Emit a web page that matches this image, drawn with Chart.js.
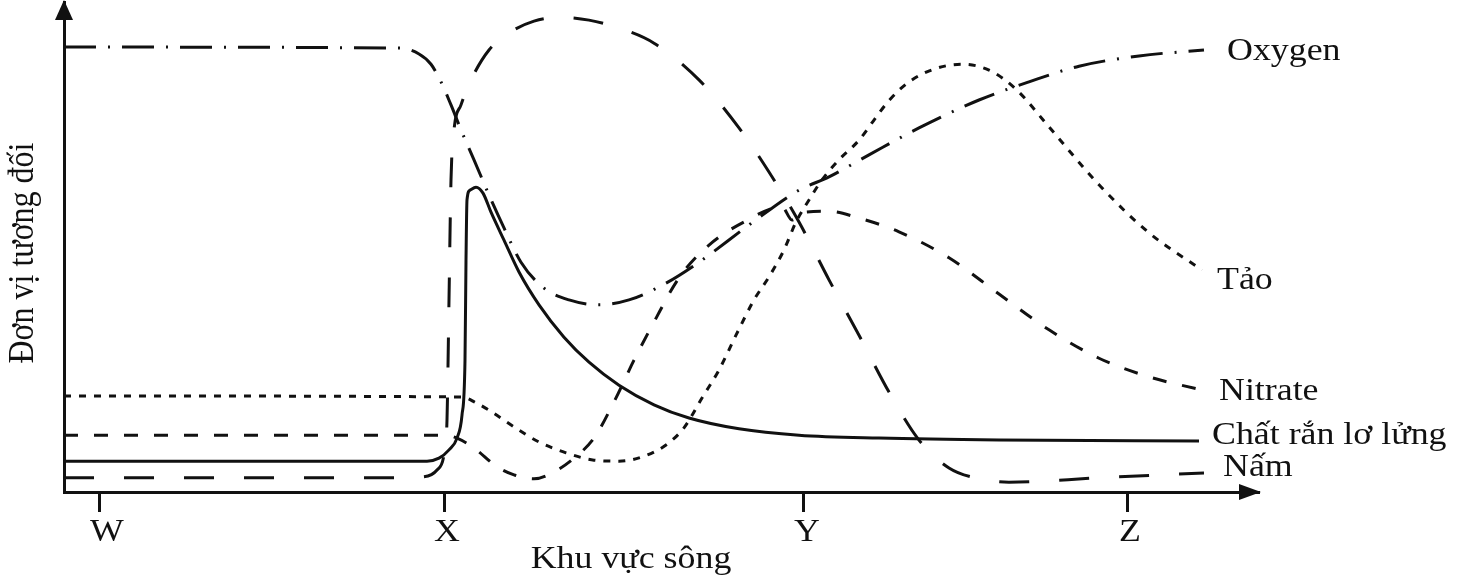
<!DOCTYPE html>
<html>
<head>
<meta charset="utf-8">
<script src="https://cdn.jsdelivr.net/npm/chart.js@4"></script>
<style>
  html, body { margin: 0; padding: 0; background: #fff; }
  #wrap { width: 1471px; height: 583px; }
</style>
</head>
<body>
<div id="wrap"><canvas id="chart"></canvas></div>
<script>
// river zones along the x axis (distance units)
const zoneNames = ['W', 'X', 'Y', 'Z'];
const zonePos   = [35, 380, 740, 1063];

// relative units: [distance, value]
const oxygen = [[0,90.8],[335,90.6],[355,89.4],[367,87.3],[377,83.7],[387,79.0],[397,73.9],[410,67.8],[425,60.6],
  [440,53.9],[457,46.9],[480,41.6],[505,39.2],[535,38.2],[565,39.2],[600,42.4],[635,46.9],[685,54.5],[735,61.6],
  [765,64.3],[805,68.8],[855,74.3],[915,80.0],[965,83.7],[1015,86.9],[1075,89.0],[1140,90.2]];

const algae = [[0,19.6],[398,19.4],[412,18.2],[425,16.7],[450,13.3],[475,10.2],[502,8.0],[530,6.5],[555,6.3],
  [580,7.3],[602,9.6],[620,13.1],[638,19.2],[655,24.9],[672,32.0],[690,39.2],[705,43.9],[720,49.4],[732,55.1],
  [745,59.6],[758,63.7],[775,67.8],[795,71.8],[810,75.9],[825,79.9],[845,83.7],[870,86.3],[898,87.3],[925,86.1],
  [952,82.2],[985,74.5],[1035,62.7],[1085,52.9],[1138,45.3]];

const nitrate = [[0,11.6],[382,11.6],[393,11.0],[410,9.0],[432,5.3],[450,3.5],[470,2.7],[490,4.1],[510,6.9],
  [530,11.0],[550,18.4],[570,26.9],[590,34.7],[615,43.7],[645,50.4],[680,55.1],[718,58.2],[728,55.5],[740,57.1],
  [765,57.3],[795,55.9],[835,53.1],[885,47.8],[935,40.4],[985,33.1],[1035,27.3],[1085,23.5],[1138,20.8]];

const solids = [[0,6.3],[363,6.3],[375,6.9],[385,8.6],[393,11.0],[398,15.7],[401,26.9],[402,47.3],[403,59.6],
  [406,61.6],[412,62.2],[419,61.0],[427,57.1],[440,51.4],[455,44.9],[475,38.2],[500,31.6],[525,26.5],[555,21.8],
  [590,17.8],[625,15.1],[675,12.9],[735,11.6],[815,11.0],[935,10.6],[1135,10.4]];

const fungi = [[0,2.9],[335,2.9],[360,3.1],[373,4.5],[380,7.6],[383,14.7],[385,39.2],[387,63.7],[390,73.9],
  [397,79.0],[407,84.1],[425,90.2],[445,93.7],[470,96.1],[495,96.9],[525,96.3],[555,94.7],[590,91.6],[635,84.1],
  [675,74.3],[705,65.3],[735,55.1],[765,43.3],[795,32.0],[825,20.4],[855,10.6],[885,4.9],[915,2.7],[945,2.0],
  [1035,2.9],[1140,3.9]];

const INK = '#111';
const FONT = '32px "Liberation Serif", "Times New Roman", serif';
const STRETCH = 1.12;

function pts(arr){ return arr.map(p => ({x: p[0], y: p[1]})); }

function series(label, data, dash, endLabel){
  return { label, data: pts(data), borderColor: INK, borderWidth: 3, borderDash: dash, borderCapStyle: 'butt',
    pointRadius: 0, fill: false, cubicInterpolationMode: 'monotone', endLabel };
}

function txt(ctx, s, x, y, align, rot){
  ctx.save();
  ctx.translate(x, y);
  ctx.scale(STRETCH, 1);
  if (rot) ctx.rotate(rot);
  ctx.font = FONT; ctx.fillStyle = INK;
  ctx.textAlign = align; ctx.textBaseline = 'middle';
  ctx.fillText(s, 0, 0);
  ctx.restore();
}

const decor = {
  id: 'decor',
  afterDraw(chart){
    const {ctx, chartArea: a, scales: {x}} = chart;
    ctx.save();
    ctx.fillStyle = INK;
    // arrow heads
    ctx.beginPath(); ctx.moveTo(a.left, a.top - 2); ctx.lineTo(a.left - 9, a.top + 18); ctx.lineTo(a.left + 9, a.top + 18); ctx.fill();
    ctx.beginPath(); ctx.moveTo(a.right + 3, a.bottom); ctx.lineTo(a.right - 19, a.bottom - 8); ctx.lineTo(a.right - 19, a.bottom + 8); ctx.fill();
    ctx.restore();
    // zone labels
    zoneNames.forEach((n, i) => txt(ctx, n, x.getPixelForValue(zonePos[i]) + (i === 0 ? 8 : 3), a.bottom + 41, 'center'));
    txt(ctx, 'Khu vực sông', a.left + 567, a.bottom + 68, 'center');
    txt(ctx, 'Đơn vị tương đối', 24, 253, 'center', -Math.PI / 2);
    // series labels at line ends
    chart.data.datasets.forEach((ds, i) => {
      const el = chart.getDatasetMeta(i).data;
      const last = el[el.length - 1];
      txt(ctx, ds.label, last.x + ds.endLabel.dx, last.y + ds.endLabel.dy, 'left');
    });
  }
};

new Chart(document.getElementById('chart'), {
  type: 'line',
  data: { datasets: [
    series('Oxygen', oxygen, [32, 12, 2, 12], {dx: 23, dy: 2}),
    series('Tảo', algae, [7, 8], {dx: 15, dy: 11}),
    series('Nitrate', nitrate, [14, 16], {dx: 17, dy: 2}),
    series('Chất rắn lơ lửng', solids, [], {dx: 13, dy: -5}),
    series('Nấm', fungi, [30, 30], {dx: 19, dy: -5})
  ]},
  options: {
    responsive: true, maintainAspectRatio: false, animation: false,
    layout: { padding: { left: 64, right: 213, top: 2, bottom: 71 } },
    plugins: { legend: { display: false }, tooltip: { enabled: false } },
    scales: {
      x: { type: 'linear', min: 0, max: 1194,
        afterBuildTicks: s => { s.ticks = zonePos.map(v => ({value: v})); },
        ticks: { display: false },
        grid: { display: true, drawOnChartArea: false, drawTicks: true, tickLength: 20, color: INK, lineWidth: 3 },
        border: { display: true, color: INK, width: 3 } },
      y: { min: 0, max: 100,
        ticks: { display: false },
        grid: { display: false, drawTicks: false },
        border: { display: true, color: INK, width: 3 } }
    }
  },
  plugins: [decor]
});
</script>
</body>
</html>
